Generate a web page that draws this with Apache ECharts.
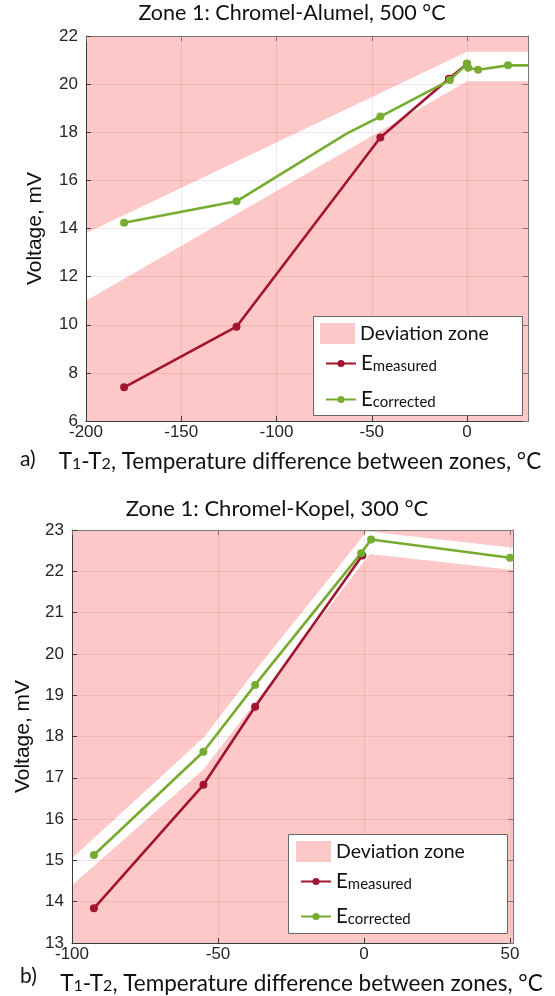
<!DOCTYPE html>
<html>
<head>
<meta charset="utf-8">
<script src="https://cdn.jsdelivr.net/npm/echarts@6/dist/echarts.min.js"></script>
<style>
    html, body { margin: 0; padding: 0; background: #fff; }
    #myChart { width: 555px; height: 996px; }
</style>
</head>
<body>
<div id="myChart"></div>
<script>
// chart a) Chromel-Alumel, 500 °C
var measuredA = [[-180, 7.4], [-121, 9.92], [-45.5, 17.78], [-9.5, 20.22], [0, 20.85]];
var correctedA = [[-180, 14.24], [-121, 15.13], [-63, 17.95], [-45.5, 18.65], [-9, 20.17], [0, 20.85], [0.6, 20.68], [5.8, 20.6], [21.5, 20.78], [32, 20.78]];
var zoneUpperA = [[-200, 13.8], [0, 21.35], [32, 21.35]];
var zoneLowerA = [[-200, 11.0], [0, 20.12], [32, 20.12]];

// chart b) Chromel-Kopel, 300 °C
var measuredB = [[-92.5, 13.84], [-55, 16.83], [-37.3, 18.72], [-0.6, 22.38]];
var correctedB = [[-92.5, 15.13], [-55, 17.63], [-37.3, 19.25], [-1, 22.44], [2.4, 22.77], [50, 22.33]];
var zoneUpperB = [[-100, 15.05], [-55, 17.97], [-37, 19.62], [1, 22.97], [51, 22.57]];
var zoneLowerB = [[-100, 14.4], [-55, 17.2], [-37, 18.85], [2, 22.42], [51, 22.03]];

var titles = ['Zone 1: Chromel-Alumel, 500 °C', 'Zone 1: Chromel-Kopel, 300 °C'];

var PINK = '#fec8c8';
var RED = '#a2142f';
var GREEN = '#77ac30';
var AXIS = '#3a3a3a';
var FONT = 'Lato';

window.onload = function () {
    var myChart = echarts.init(document.getElementById('myChart'));

    function xAxes(idx, min, max, interval, namePad) {
        return [{
            type: 'value', gridIndex: idx, min: min, max: max, interval: interval,
            name: 'T{s|1}-T{s|2}, Temperature difference between zones, °C',
            nameLocation: 'middle', nameGap: 29,
            nameTextStyle: {
                fontFamily: FONT, fontSize: 22.5, color: '#111', padding: namePad,
                rich: { s: { fontFamily: FONT, fontSize: 16, color: '#111', padding: [5, 0, 0, 0] } }
            },
            axisLine: { onZero: false, lineStyle: { color: AXIS, width: 1 } },
            axisTick: { inside: true, length: 5, lineStyle: { color: AXIS } },
            axisLabel: { fontFamily: 'Liberation Sans', fontSize: 17, color: '#262626', margin: 3, showMaxLabel: false },
            splitLine: { show: true, lineStyle: { color: 'rgba(120,0,0,0.09)' } }
        }, {
            type: 'value', gridIndex: idx, min: min, max: max, interval: interval, position: 'top',
            axisLine: { onZero: false, lineStyle: { color: '#777' } },
            axisTick: { inside: true, length: 5, lineStyle: { color: '#777' } },
            axisLabel: { show: false }, splitLine: { show: false }
        }];
    }

    function yAxes(idx, min, max, interval, gap) {
        return [{
            type: 'value', gridIndex: idx, min: min, max: max, interval: interval,
            name: 'Voltage, mV', nameLocation: 'middle', nameGap: gap,
            nameTextStyle: { fontFamily: 'Liberation Sans', fontSize: 21, color: '#111' },
            axisLine: { show: true, onZero: false, lineStyle: { color: AXIS, width: 1 } },
            axisTick: { show: true, inside: true, length: 5, lineStyle: { color: AXIS } },
            axisLabel: { fontFamily: 'Liberation Sans', fontSize: 17, color: '#262626', margin: 8 },
            splitLine: { show: true, lineStyle: { color: 'rgba(120,0,0,0.09)' } }
        }, {
            type: 'value', gridIndex: idx, min: min, max: max, interval: interval, position: 'right',
            axisLine: { show: true, onZero: false, lineStyle: { color: '#777' } },
            axisTick: { show: true, inside: true, length: 5, lineStyle: { color: '#777' } },
            axisLabel: { show: false }, splitLine: { show: false }
        }];
    }

    function zone(idx, upper, lower, xMin, xMax, yMax) {
        var base = {
            type: 'line', xAxisIndex: idx * 2, yAxisIndex: idx * 2, symbol: 'none', silent: true,
            lineStyle: { width: 0 }, animation: false
        };
        return [
            Object.assign({}, base, {
                name: 'Deviation zone', z: -3, itemStyle: { color: PINK },
                data: [[xMin, yMax], [xMax, yMax]],
                areaStyle: { color: PINK, opacity: 1, origin: 'start' }
            }),
            Object.assign({}, base, {
                name: 'zoneUpper', z: -2, itemStyle: { color: '#fff' },
                data: upper, areaStyle: { color: '#fff', opacity: 1, origin: 'start' }
            }),
            Object.assign({}, base, {
                name: 'zoneLower', z: -1, itemStyle: { color: PINK },
                data: lower, areaStyle: { color: PINK, opacity: 1, origin: 'start' }
            })
        ];
    }

    function curve(idx, name, color, data) {
        return {
            name: name, type: 'line', xAxisIndex: idx * 2, yAxisIndex: idx * 2, z: 5,
            data: data.map(function (p, i) {
                // bend without marker / end of line at the border
                if (name == 'Ecorrected' && idx == 0 && (i == 2 || i == data.length - 1))
                    return { value: p, symbol: 'none' };
                return p;
            }),
            symbol: 'circle', symbolSize: 8,
            lineStyle: { color: color, width: 2.6 },
            itemStyle: { color: color },
            animation: false
        };
    }

    var legendRich = {
        t: { fontFamily: FONT, fontSize: 19.5, color: '#111' },
        b: { fontFamily: FONT, fontSize: 20.5, color: '#111', verticalAlign: 'bottom', height: 26 },
        s: { fontFamily: FONT, fontSize: 15, color: '#111', verticalAlign: 'bottom', padding: [0, 0, 3, 0] }
    };

    // box + pink swatch entry + line entries
    function legends(box, zoneRow, lineRow) {
        return {
            box: {
                type: 'rect', left: box[0], top: box[1], z: 50,
                shape: { width: box[2], height: box[3] },
                style: { fill: '#fff', stroke: '#666', lineWidth: 1 }
            },
            items: [{
                orient: 'vertical', left: zoneRow[0], top: zoneRow[1], padding: 0, z: 60,
                itemWidth: 35, itemHeight: 21, selectedMode: false,
                data: [{ name: 'Deviation zone', icon: 'rect', itemStyle: { color: PINK } }],
                formatter: '{t|{name}}',
                textStyle: { rich: legendRich }
            }, {
                orient: 'vertical', left: lineRow[0], top: lineRow[1], padding: 0, z: 60,
                itemWidth: lineRow[2], itemHeight: 9, itemGap: lineRow[3], selectedMode: false,
                data: ['Emeasured', 'Ecorrected'],
                formatter: function (name) { return '{b|E}{s|' + name.substr(1) + '}'; },
                textStyle: { rich: legendRich }
            }]
        };
    }
    var legA = legends([313, 316, 209, 99], [320, 323], [325, 353, 30, 15]);
    var legB = legends([288, 834, 219, 99], [296, 841], [300, 871, 30, 14]);

    var option = {
        backgroundColor: '#fff',
        animation: false,
        title: [
            { text: titles[0], left: 292, top: 2, padding: 0, textAlign: 'center',
              textStyle: { fontFamily: FONT, fontSize: 21.5, fontWeight: 'normal', color: '#111' } },
            { text: titles[1], left: 277, top: 498, padding: 0, textAlign: 'center',
              textStyle: { fontFamily: FONT, fontSize: 22, fontWeight: 'normal', color: '#111' } }
        ],
        grid: [
            { left: 86, top: 36, width: 442, height: 385 },
            { left: 72, top: 530, width: 441, height: 413 }
        ],
        xAxis: xAxes(0, -200, 32, 50, [0, 14, 0, 0]).concat(xAxes(1, -100, 51, 50, [0, 0, 0, 18])),
        yAxis: yAxes(0, 6, 22, 2, 40).concat(yAxes(1, 13, 23, 1, 37)),
        legend: legA.items.concat(legB.items),
        graphic: [
            legA.box, legB.box,
            { type: 'text', left: 20, top: 449, style: { text: 'a)', fontFamily: FONT, fontSize: 21, fill: '#111' } },
            { type: 'text', left: 20, top: 966, style: { text: 'b)', fontFamily: FONT, fontSize: 21, fill: '#111' } }
        ],
        series: zone(0, zoneUpperA, zoneLowerA, -200, 32, 22)
            .concat([curve(0, 'Emeasured', RED, measuredA), curve(0, 'Ecorrected', GREEN, correctedA)])
            .concat(zone(1, zoneUpperB, zoneLowerB, -100, 51, 23))
            .concat([curve(1, 'Emeasured', RED, measuredB), curve(1, 'Ecorrected', GREEN, correctedB)])
    };
    myChart.setOption(option);
};
</script>
</body>
</html>
